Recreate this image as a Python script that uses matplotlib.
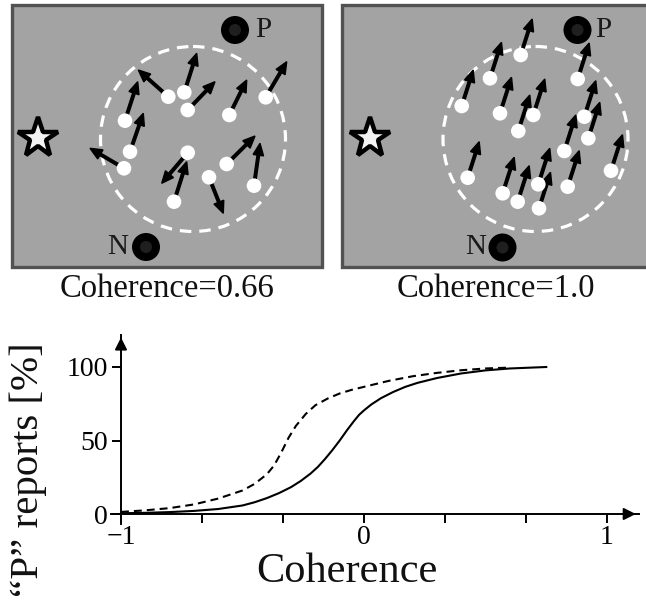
import matplotlib
matplotlib.use('Agg')
import matplotlib.pyplot as plt
from matplotlib.patches import Rectangle, Circle

plt.rcParams['font.family'] = ['Liberation Serif', 'DejaVu Serif']
plt.rcParams['axes.unicode_minus'] = True

# ---------------- data ----------------
panel_titles = ["Coherence=0.66", "Coherence=1.0"]

# left panel (coherence 0.66): dot centres and arrow tips (pixels)
left_dot_x = [168.3, 184.3, 187.7, 229.3, 265.7, 125.0, 130.0, 124.0, 187.7, 174.0, 209.0, 226.7, 254.0]
left_dot_y = [96.7, 92.3, 110.0, 115.0, 97.3, 120.7, 151.7, 168.3, 152.7, 201.7, 177.3, 164.0, 185.7]
left_tip_x = [138.3, 196.7, 215.0, 246.7, 286.7, 137.7, 143.3, 90.0, 161.7, 186.7, 223.3, 255.0, 260.0]
left_tip_y = [70.0, 53.3, 81.7, 80.0, 61.7, 81.7, 113.3, 148.3, 183.3, 161.7, 213.3, 136.0, 143.3]

# right panel (coherence 1.0): dot centres (pixels), common motion
right_dot_x = [520.7, 490.0, 461.7, 500.0, 533.3, 518.3, 577.7, 584.3, 588.3, 564.3,
               611.0, 467.7, 502.7, 517.7, 538.3, 539.0, 567.7]
right_dot_y = [55.0, 78.3, 106.0, 113.3, 115.0, 131.0, 79.0, 116.7, 138.3, 151.0,
               170.7, 177.7, 193.3, 201.7, 184.3, 208.3, 186.7]
right_motion_dx = 11.5
right_motion_dy = -36.0

# psychometric curves
coh_solid = [-1.0, -0.9, -0.8, -0.7, -0.6, -0.5, -0.45, -0.4, -0.35, -0.3, -0.26, -0.22,
             -0.19, -0.16, -0.13, -0.1, -0.07, -0.04, -0.02, 0.0, 0.03, 0.07, 0.12, 0.17,
             0.22, 0.3, 0.4, 0.5, 0.6, 0.75]
p_solid = [0.5, 0.8, 1.3, 2.1, 3.4, 5.8, 8.0, 10.8, 14.2, 18.3, 22.5, 27.5,
           32.0, 37.5, 43.5, 50.0, 57.0, 63.5, 67.5, 70.5, 74.5, 78.8, 83.0, 86.5,
           89.2, 92.5, 95.6, 97.7, 99.0, 100.0]
coh_dashed = [-1.0, -0.9, -0.8, -0.7, -0.6, -0.5, -0.45, -0.4, -0.37, -0.34, -0.31, -0.28,
              -0.24, -0.2, -0.15, -0.1, -0.05, 0.0, 0.1, 0.2, 0.3, 0.4, 0.5, 0.6]
p_dashed = [1.4, 2.5, 4.0, 6.5, 10.5, 16.0, 20.5, 27.0, 33.0, 42.0, 52.0, 60.0,
            68.0, 74.0, 78.5, 82.0, 84.5, 86.5, 90.5, 93.7, 96.0, 97.8, 99.0, 99.6]

xtick_pos = [-1, -2/3, -1/3, 0, 1/3, 2/3, 1]
xtick_lab = ["\u22121", "", "", "0", "", "", "1"]
ytick_pos = [0, 50, 100]
ytick_lab = ["0", "50", "100"]

# ---------------- figure ----------------
W, H = 646, 612
fig = plt.figure(figsize=(W / 100, H / 100), dpi=100)
fig.patch.set_facecolor('white')

TOP_H = 300
ax = fig.add_axes([0, 1 - TOP_H / H, 1, TOP_H / H])
ax.set_xlim(0, W)
ax.set_ylim(TOP_H, 0)
ax.axis('off')

panel_x = [12, 342]
panel_y, panel_w, panel_h = 5, 310, 262
for px in panel_x:
    ax.add_patch(Rectangle((px, panel_y), panel_w, panel_h, facecolor='#a3a3a3',
                           edgecolor='#525252', lw=2.4, zorder=1))

# stars
star_x = [38, 370]
for sx in star_x:
    ax.plot(sx, 138, marker='*', ms=30, mfc='#f4f4f4', mec='black', mew=3.2, zorder=5)

# P / N targets
P_xy = [(235, 30), (577.5, 30)]
N_xy = [(146, 247), (502.5, 247.5)]
P_lab = [(263.5, 37), (603, 37)]
N_lab = [(118, 254), (476, 254)]
for (x, y) in P_xy + N_xy:
    ax.add_patch(Circle((x, y), 14, facecolor='black', edgecolor='none', zorder=5))
    ax.add_patch(Circle((x, y), 6, facecolor='#1f1f1f', edgecolor='none', zorder=6))
for (x, y) in P_lab:
    ax.text(x, y, "P", ha='center', va='baseline', fontsize=21, color='#1a1a1a')
for (x, y) in N_lab:
    ax.text(x, y, "N", ha='center', va='baseline', fontsize=21, color='#1a1a1a')

# dashed aperture circles
ap_centres = [(193, 139), (535.5, 139)]
for (cx, cy) in ap_centres:
    ax.add_patch(Circle((cx, cy), 92.5, fill=False, edgecolor='white', lw=2.3,
                        linestyle=(0, (3.6, 2.5)), zorder=2))

arrow_kw = dict(width=2.6, head_width=10.5, head_length=12, length_includes_head=True,
                fc='black', ec='black', zorder=3)
for x, y, tx, ty in zip(left_dot_x, left_dot_y, left_tip_x, left_tip_y):
    ax.arrow(x, y, tx - x, ty - y, **arrow_kw)
    ax.add_patch(Circle((x, y), 7.3, facecolor='white', edgecolor='none', zorder=4))
for x, y in zip(right_dot_x, right_dot_y):
    ax.arrow(x, y, right_motion_dx, right_motion_dy, **arrow_kw)
    ax.add_patch(Circle((x, y), 7.3, facecolor='white', edgecolor='none', zorder=4))

title_x = [167.5, 496]
for tx, t in zip(title_x, panel_titles):
    ax.text(tx, 297, t, ha='center', va='baseline', fontsize=23.5, color='#111111')

# ---------------- psychometric plot ----------------
x0_px, unit_px = 364, 243
y0_px, yunit_px = 514, 1.47
xlo, xhi = -1.04, 1.13
ylo, yhi = -6.5, 122
left_px = x0_px + xlo * unit_px
right_px = x0_px + xhi * unit_px
bot_px = y0_px - ylo * yunit_px
top_px = y0_px - yhi * yunit_px
bx = fig.add_axes([left_px / W, 1 - bot_px / H, (right_px - left_px) / W, (bot_px - top_px) / H])
bx.set_xlim(xlo, xhi)
bx.set_ylim(ylo, yhi)
bx.patch.set_alpha(0)
for s in ['top', 'right']:
    bx.spines[s].set_visible(False)
bx.spines['left'].set_position(('data', -1))
bx.spines['bottom'].set_position(('data', 0))
for s in ['left', 'bottom']:
    bx.spines[s].set_linewidth(1.4)

bx.plot(coh_solid, p_solid, color='black', lw=1.5, solid_joinstyle='round')
bx.plot(coh_dashed, p_dashed, color='black', lw=1.5, linestyle=(0, (3.8, 2.4)))

bx.set_xticks(xtick_pos)
bx.set_xticklabels(xtick_lab)
bx.set_yticks(ytick_pos)
bx.set_yticklabels(ytick_lab)
bx.tick_params(axis='x', direction='out', length=6.5, width=1.4, pad=1.5, labelsize=20)
bx.tick_params(axis='y', direction='out', length=6.5, width=1.4, pad=3, labelsize=20)

# arrowheads on axes
bx.annotate('', xy=(xhi, 0), xytext=(xhi - 0.06, 0),
            arrowprops=dict(arrowstyle='-|>', color='black', lw=1.4, mutation_scale=18),
            annotation_clip=False)
bx.annotate('', xy=(-1, yhi), xytext=(-1, yhi - 10),
            arrowprops=dict(arrowstyle='-|>', color='black', lw=1.4, mutation_scale=18),
            annotation_clip=False)

fig.text(346.5 / W, 1 - 582 / H, "Coherence", ha='center', va='baseline', fontsize=30.5,
         color='#111111')
fig.text(28 / W, 1 - 470 / H, "\u201cP\u201d reports [%]", rotation=90, ha='center',
         va='center', fontsize=29.5, color='#111111')

fig.savefig('out.png', dpi=100)
